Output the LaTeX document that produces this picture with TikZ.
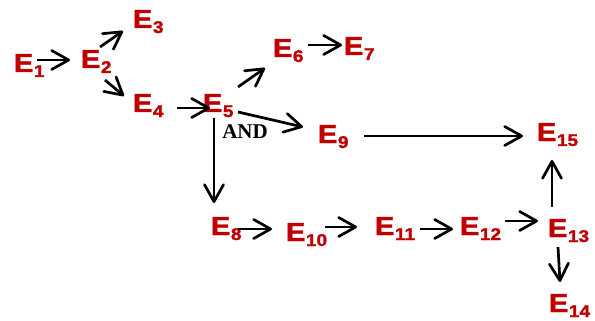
\documentclass[tikz,border=0pt]{standalone}
\usepackage{fontspec}
\usetikzlibrary{arrows.meta}
\newfontfamily\efont{Liberation Sans Bold}[FakeStretch=1.12,FakeBold=1.5]
\newfontfamily\andfont{Liberation Serif}
\definecolor{ered}{RGB}{192,0,0}
\newcommand\ev[1]{E\kern0.5pt\raisebox{-5pt}{\fontsize{17}{17}\selectfont #1}}
\pgfdeclarearrow{
  name = openvee,
  defaults = {length = 18pt, width = 19pt},
  setup code = {
    \pgfarrowssettipend{0.5\pgflinewidth}
    \pgfarrowssetlineend{-0.5\pgflinewidth}
    \pgfarrowshullpoint{0pt}{0pt}
    \pgfarrowsupperhullpoint{-\pgfarrowlength}{0.5\pgfarrowwidth}
    \pgfarrowssave\pgfarrowlength
    \pgfarrowssave\pgfarrowwidth
  },
  drawing code = {
    \pgfsetdash{}{0pt}
    \pgfsetroundcap
    \pgfsetroundjoin
    \pgfpathmoveto{\pgfqpoint{-\pgfarrowlength}{0.5\pgfarrowwidth}}
    \pgfpathlineto{\pgfpointorigin}
    \pgfpathlineto{\pgfqpoint{-\pgfarrowlength}{-0.5\pgfarrowwidth}}
    \pgfusepathqstroke
  },
  parameters = {\the\pgfarrowlength,\the\pgfarrowwidth}
}
\tikzset{
  ev/.style={anchor=base west, inner sep=0pt, outer sep=0pt, text=ered,
    font=\efont\fontsize{26}{26}\selectfont},
  arr/.style={line width=2.7pt, -{openvee[length=17pt,width=19pt]}},
  andlab/.style={inner sep=0pt, font=\andfont\bfseries\fontsize{21}{21}\selectfont}
}
\begin{document}
\begin{tikzpicture}[x=1pt,y=-1pt]
\useasboundingbox (0,0) rectangle (595,321);
\node[ev] (e1) at (14,72) {\ev{1}};
\node[ev] (e2) at (81,68) {\ev{2}};
\node[ev] (e3) at (133,28) {\ev{3}};
\node[ev] (e4) at (133,112) {\ev{4}};
\node[ev] (e5) at (203,112) {\ev{5}};
\node[ev] (e6) at (273,57) {\ev{6}};
\node[ev] (e7) at (344,55) {\ev{7}};
\node[ev] (e9) at (318,143) {\ev{9}};
\node[ev] (e15) at (537,141) {\ev{15}};
\node[ev] (e8) at (211,235) {\ev{8}};
\node[ev] (e10) at (286,241) {\ev{10}};
\node[ev] (e11) at (375,235) {\ev{11}};
\node[ev] (e12) at (460,235) {\ev{12}};
\node[ev] (e13) at (548,237) {\ev{13}};
\node[ev] (e14) at (549,312) {\ev{14}};
\node[andlab] (and) at (245,132) {AND};

\draw[arr] ([shift={(23,-12)}]e1.base west) -- ([shift={(-11,-8)}]e2.base west);
\draw[arr] ([shift={(19,-21)}]e2.base west) -- ([shift={(-10,3)}]e3.base west);
\draw[arr] ([shift={(24,12)}]e2.base west) -- ([shift={(-9,-16)}]e4.base west);
\draw[arr] ([shift={(44,-4)}]e4.base west) -- ([shift={(7,-4)}]e5.base west);
\draw[arr] ([shift={(35,-25)}]e5.base west) -- ([shift={(-8,11)}]e6.base west);
\draw[arr] ([shift={(35,-12)}]e6.base west) -- ([shift={(-2,-10)}]e7.base west);
\draw[arr] ([shift={(35,0)}]e5.base west) -- ([shift={(-15,-16)}]e9.base west);
\draw[arr] ([shift={(11,6)}]e5.base west) -- ([shift={(3,-32)}]e8.base west);
\draw[arr] ([shift={(46,-7)}]e9.base west) -- ([shift={(-14,-5)}]e15.base west);
\draw[arr] ([shift={(27,-6)}]e8.base west) -- ([shift={(-14,-12)}]e10.base west);
\draw[arr] ([shift={(39,-14)}]e10.base west) -- ([shift={(-18,-8)}]e11.base west);
\draw[arr] ([shift={(45,-6)}]e11.base west) -- ([shift={(-7,-6)}]e12.base west);
\draw[arr] ([shift={(45,-14)}]e12.base west) -- ([shift={(-10,-16)}]e13.base west);
\draw[arr] ([shift={(4,-30)}]e13.base west) -- ([shift={(15,19)}]e15.base west);
\draw[arr] ([shift={(10,10)}]e13.base west) -- ([shift={(11,-30)}]e14.base west);
\end{tikzpicture}
\end{document}
